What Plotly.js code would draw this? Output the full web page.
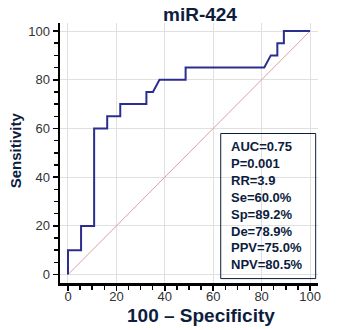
<!DOCTYPE html>
<html>
<head>
<meta charset="utf-8">
<script src="https://cdn.plot.ly/plotly-3.0.1.min.js"></script>
<style>html,body{margin:0;padding:0;background:#fff;}#chart{width:344px;height:330px;}</style>
</head>
<body>
<div id="chart"></div>
<script>
// 100 - Specificity (%) and Sensitivity (%) of the ROC curve
const fpr  = [0, 0, 5.4, 5.4, 10.8, 10.8, 16.2, 16.2, 21.6, 21.6, 32.4, 32.4, 35.1, 37.8, 48.6, 48.6, 81.1, 83.8, 86.5, 86.5, 89.2, 89.2, 100];
const sens = [0, 10, 10, 20, 20, 60, 60, 65, 65, 70, 70, 75, 75, 80, 80, 85, 85, 90, 90, 95, 95, 100, 100];
const refX = [0, 100];
const refY = [0, 100];
const tickVals = [0, 20, 40, 60, 80, 100];
const chartTitle = "miR-424";
const xTitle = "100 \u2013 Specificity";
const yTitle = "Sensitivity";
const stats = ["AUC=0.75", "P=0.001", "RR=3.9", "Se=60.0%", "Sp=89.2%", "De=78.9%", "PPV=75.0%", "NPV=80.5%"];

const FONT = "Liberation Sans, Arial, sans-serif";
const NAVY = "#0c1d3e";

const traces = [
  {x: refX, y: refY, mode: "lines", line: {color: "#d8a3a3", width: 1}, hoverinfo: "skip"},
  {x: fpr, y: sens, mode: "lines", line: {color: "#2b2e8f", width: 2}, hoverinfo: "skip"}
];

const axisCommon = {
  tickvals: tickVals,
  showgrid: true, gridcolor: "#e0e0e0", gridwidth: 1,
  zeroline: false,
  showline: true, linecolor: "#000", linewidth: 2.5,
  ticks: "outside", ticklen: 5, tickwidth: 1.5, tickcolor: "#000",
  tickfont: {family: FONT, size: 13, color: "#333"},
  minor: {dtick: 5, ticks: "outside", ticklen: 4, tickwidth: 1.5, tickcolor: "#000", showgrid: false},
  fixedrange: true
};

const layout = {
  width: 344, height: 330,
  margin: {l: 60, r: 26, t: 23, b: 47},
  paper_bgcolor: "#fff", plot_bgcolor: "#fff",
  showlegend: false,
  xaxis: Object.assign({}, axisCommon, {range: [-3.3, 103.3], ticklabelstandoff: -5}),
  yaxis: Object.assign({}, axisCommon, {range: [-3.45, 103.3]}),
  shapes: [
    {type: "rect", xref: "paper", yref: "paper", x0: 0.623, x1: 0.991, y0: 0.017, y1: 0.575,
     line: {color: NAVY, width: 1}, fillcolor: "rgba(255,255,255,0)"}
  ],
  annotations: [
    {text: "<b>" + chartTitle + "</b>", xref: "paper", yref: "paper", x: 0.543, y: 1.031,
     xanchor: "center", yanchor: "middle", showarrow: false,
     font: {family: FONT, size: 19, color: NAVY}},
    {text: "<b>" + xTitle + "</b>", xref: "paper", yref: "paper", x: 0.545, y: -0.126,
     xanchor: "center", yanchor: "middle", showarrow: false,
     font: {family: FONT, size: 19, color: NAVY}},
    {text: "<b>" + yTitle + "</b>", xref: "paper", yref: "paper", x: -0.172, y: 0.509,
     xanchor: "center", yanchor: "middle", showarrow: false, textangle: -90,
     font: {family: FONT, size: 15, color: NAVY}},
    {text: stats.map(s => "<b>" + s + "</b>").join("<br>"), xref: "paper", yref: "paper",
     x: 0.656, y: 0.297, xanchor: "left", yanchor: "middle", align: "left", showarrow: false,
     font: {family: FONT, size: 13, color: NAVY}}
  ]
};

Plotly.newPlot("chart", traces, layout, {displayModeBar: false, staticPlot: true});
</script>
</body>
</html>
